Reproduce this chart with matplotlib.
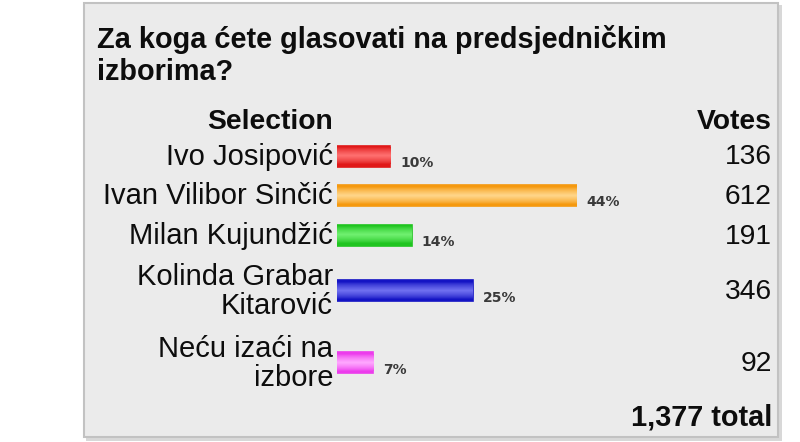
import matplotlib
matplotlib.use("Agg")
import matplotlib.pyplot as plt
import numpy as np
from matplotlib.patches import Rectangle
from matplotlib.colors import LinearSegmentedColormap

# ---- data ----
title = "Za koga ćete glasovati na predsjedničkim\nizborima?"
header_sel = "Selection"
header_votes = "Votes"
names = ["Ivo Josipović", "Ivan Vilibor Sinčić", "Milan Kujundžić",
         "Kolinda Grabar\nKitarović", "Neću izaći na\nizbore"]
votes = [136, 612, 191, 346, 92]
percents = ["10%", "44%", "14%", "25%", "7%"]
total_label = "1,377 total"

# bar colours: (edge/dark, light middle)
bar_dark = ["#e01818", "#f5990f", "#1fc41f", "#1414c4", "#ec3cec"]
bar_light = ["#ff7070", "#ffd68a", "#70f070", "#7070f0", "#ffa8ff"]

W, H = 800, 442
fig = plt.figure(figsize=(W / 100, H / 100), dpi=100)
fig.patch.set_facecolor("white")

ax = fig.add_axes([0, 0, 1, 1])
ax.set_xlim(0, W)
ax.set_ylim(H, 0)
ax.axis("off")

FONT = "Liberation Sans"
TXT = "#0d0d0d"

# panel with slight shadow
ax.add_patch(Rectangle((86, 5), 696, 436, facecolor="#d8d8d8", edgecolor="none", zorder=0))
ax.add_patch(Rectangle((84, 3), 694, 434, facecolor="#ebebeb", edgecolor="#c2c2c2",
                       lw=1.5, zorder=1))

# title
ax.text(97, 25, title, ha="left", va="top", fontsize=20.8, fontweight="bold",
        family=FONT, color=TXT, linespacing=1.16, zorder=3)

# headers
ax.text(333, 122, header_sel, ha="right", va="center", fontsize=20.3, fontweight="bold",
        family=FONT, color=TXT, zorder=3)
ax.text(772, 122, header_votes, ha="right", va="center", fontsize=20.3, fontweight="bold",
        family=FONT, color=TXT, zorder=3)

# row layout from number of label lines
nlines = [n.count("\n") + 1 for n in names]
heights = [39.5 if k == 1 else 72 for k in nlines]
centers = []
c = 156.0
for i, h in enumerate(heights):
    if i > 0:
        c += (heights[i - 1] + h) / 2
    centers.append(c)

for name, yc in zip(names, centers):
    ax.text(333, yc + 1, name, ha="right", va="center", fontsize=21, family=FONT,
            color=TXT, linespacing=1.04, zorder=3)

for v, yc in zip(votes, centers):
    ax.text(772, yc + 1.5, f"{v}", ha="right", va="center", fontsize=20.3, family=FONT,
            color=TXT, zorder=3)

ax.text(772, 417, total_label, ha="right", va="center", fontsize=20.8, fontweight="bold",
        family=FONT, color=TXT, zorder=3)

# bar axes: x in votes, y in pixel rows
axb = fig.add_axes([337 / W, 0, 240 / W, 1])
axb.set_xlim(0, max(votes))
axb.set_ylim(H, 0)
axb.axis("off")
axb.patch.set_alpha(0)

bar_h = 21
grad = np.concatenate([np.linspace(0, 1, 50), np.linspace(1, 0, 50)]) ** 0.7
grad = grad.reshape(-1, 1)
bars = axb.barh(centers, votes, height=bar_h, color=bar_dark, edgecolor=bar_dark,
                linewidth=1.2, zorder=2)
for b, dark, light, v, yc, p in zip(bars, bar_dark, bar_light, votes, centers, percents):
    cmap = LinearSegmentedColormap.from_list("g", [dark, light])
    im = axb.imshow(grad, cmap=cmap, aspect="auto", interpolation="bilinear",
                    extent=(0, v, yc + bar_h / 2 - 2, yc - bar_h / 2 + 2), zorder=3)
    im.set_clip_path(b)
    axb.annotate(p, xy=(v, yc), xytext=(7, -5), textcoords="offset points",
                 ha="left", va="center", fontsize=10, fontweight="bold",
                 family="DejaVu Sans", color="#3a3a3a", annotation_clip=False, zorder=4)

axb.set_xlim(0, max(votes))
axb.set_ylim(H, 0)

fig.savefig("out.png", dpi=100, facecolor=fig.get_facecolor())
